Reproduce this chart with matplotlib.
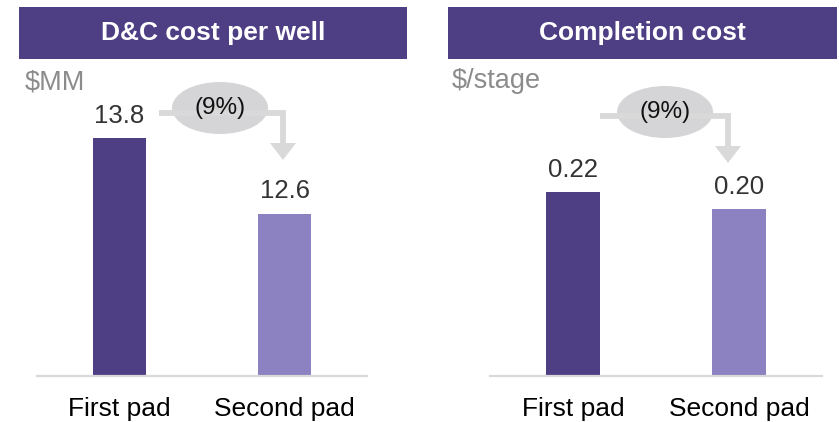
import matplotlib
matplotlib.use("Agg")
import matplotlib.pyplot as plt
from matplotlib.patches import Rectangle, Ellipse, Polygon
from matplotlib.lines import Line2D

plt.rcParams['font.family'] = ['Liberation Sans', 'DejaVu Sans']

# values
categories = ["First pad", "Second pad"]
dc_cost = [13.8, 12.6]          # $MM per well
completion_cost = [0.22, 0.20]  # $ per stage
dc_labels = ["13.8", "12.6"]
comp_labels = ["0.22", "0.20"]
change_label = "(9%)"

DARK = "#4E3F84"
LIGHT = "#8C81C1"
GREY_LINE = "#D9D9D9"
ELLIPSE = "#D5D5D7"

W, H = 839, 422
fig = plt.figure(figsize=(W / 100, H / 100), dpi=100)


def fx(x):
    return x / W


def fy(y):
    return 1 - y / H


def px_rect(x0, y0, x1, y1):
    # left, bottom, width, height in figure fraction from pixel box
    return [fx(x0), fy(y1), (x1 - x0) / W, (y1 - y0) / H]


def header(x0, x1, text):
    fig.add_artist(Rectangle((fx(x0), fy(59)), (x1 - x0) / W, 52 / H,
                             transform=fig.transFigure, color=DARK, lw=0))
    fig.text(fx((x0 + x1) / 2), fy(33), text, color="white", fontsize=19,
             fontweight="bold", ha="center", va="center")


def change_arrow(x_start, y_line, x_turn, y_tip, ex, ey):
    kw = dict(transform=fig.transFigure, color=GREY_LINE, lw=4.2,
              solid_joinstyle="miter", solid_capstyle="butt")
    fig.add_artist(Line2D([fx(x_start), fx(x_turn), fx(x_turn)],
                          [fy(y_line), fy(y_line), fy(y_tip - 15)], **kw))
    fig.add_artist(Polygon([(fx(x_turn - 13), fy(y_tip - 17)),
                            (fx(x_turn + 13), fy(y_tip - 17)),
                            (fx(x_turn), fy(y_tip))],
                           closed=True, transform=fig.transFigure,
                           color=GREY_LINE, lw=0))
    fig.add_artist(Ellipse((fx(ex), fy(ey)), 96 / W, 52 / H,
                           transform=fig.transFigure, color=ELLIPSE, lw=0))
    fig.text(fx(ex), fy(ey), change_label, fontsize=17.5, color="#111111",
             ha="center", va="center")


def panel(rect, values, labels, colors, ylim):
    ax = fig.add_axes(rect)
    x = range(len(values))
    bottom = ylim[0]
    bars = ax.bar(x, [v - bottom for v in values], bottom=bottom,
                  width=0.32, color=colors)
    for b, lab in zip(bars, labels):
        ax.annotate(lab, (b.get_x() + b.get_width() / 2, b.get_y() + b.get_height()),
                    xytext=(0, 11), textcoords="offset points",
                    ha="center", va="baseline", fontsize=18.5, color="#333333")
    ax.set_xlim(-0.5, 1.5)
    ax.set_ylim(*ylim)
    ax.set_xticks(list(x))
    ax.set_xticklabels(categories, fontsize=19)
    ax.tick_params(axis="x", length=0, pad=15)
    ax.set_yticks([])
    for s in ["top", "right", "left"]:
        ax.spines[s].set_visible(False)
    ax.spines["bottom"].set_color(GREY_LINE)
    ax.spines["bottom"].set_linewidth(1.6)
    ax.patch.set_alpha(0)
    return ax


# left panel: axis starts at 10 $MM
panel(px_rect(37, 60, 367, 376), dc_cost, dc_labels, [DARK, LIGHT],
      (10, 10 + 316 / 62.5))
# right panel: axis starts at zero
panel(px_rect(490, 60, 822, 376), completion_cost, comp_labels, [DARK, LIGHT],
      (0, 316 / 836))

header(19, 407, "D&C cost per well")
header(448, 837, "Completion cost")

fig.text(fx(25), fy(89), "$MM", fontsize=19.5, color="#8C8C8C", va="baseline")
fig.text(fx(452), fy(88), "$/stage", fontsize=19.5, color="#8C8C8C", va="baseline")

change_arrow(159, 112.5, 283, 160, 220, 108)
change_arrow(600, 116, 728, 163, 665, 112)

fig.savefig("out.png", dpi=100)
